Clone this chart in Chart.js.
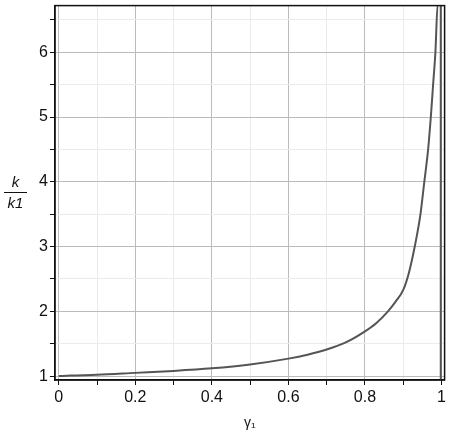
<!DOCTYPE html>
<html>
<head>
<meta charset="utf-8">
<script src="https://cdn.jsdelivr.net/npm/chart.js@4"></script>
<style>
  html, body { margin: 0; padding: 0; background: #fff; overflow: hidden; }
  #wrap { position: relative; width: 449px; height: 433px; overflow: hidden; }
  #chart { position: absolute; left: 0; top: -6px; }
  .frac { position: absolute; left: 4px; top: 173px; width: 23px; font: italic 15px "Liberation Sans", Arial, sans-serif; color: #111; text-align: center; }
  .frac .num { border-bottom: 1px solid #111; padding-bottom: 2px; line-height: 17px; }
  .frac .den { line-height: 19px; }
</style>
</head>
<body>
<div id="wrap">
  <canvas id="chart" width="449" height="439"></canvas>
  <div class="frac"><div class="num">k</div><div class="den">k1</div></div>
</div>
<script>
// values
const gamma = [0, 0.03, 0.1, 0.2, 0.3, 0.4, 0.5, 0.6, 0.65, 0.7, 0.75, 0.8, 0.83, 0.86, 0.88, 0.9, 0.915, 0.93, 0.945, 0.955, 0.965, 0.972, 0.978, 0.984, 0.99, 0.998, 0.998];
const ratio = [1.0, 1.01, 1.02, 1.05, 1.08, 1.12, 1.18, 1.27, 1.33, 1.41, 1.52, 1.69, 1.82, 2.0, 2.15, 2.33, 2.6, 3.0, 3.5, 4.0, 4.5, 5.0, 5.5, 6.0, 6.75, 6.75, 0.9];
const xTicks = [0, 0.1, 0.2, 0.3, 0.4, 0.5, 0.6, 0.7, 0.8, 0.9, 1];
const yTicks = [1, 1.5, 2, 2.5, 3, 3.5, 4, 4.5, 5, 5.5, 6, 6.5];

const isMajorX = v => Math.abs(v * 5 - Math.round(v * 5)) < 1e-6;
const isMajorY = v => Math.abs(v - Math.round(v)) < 1e-6;

const frame = {
  id: 'frame',
  afterDraw(chart) {
    const { ctx, chartArea: a } = chart;
    ctx.save();
    ctx.strokeStyle = '#111';
    ctx.lineWidth = 1.5;
    ctx.strokeRect(a.left, a.top, a.right - a.left, a.bottom - a.top);
    ctx.restore();
  }
};

new Chart(document.getElementById('chart'), {
  type: 'line',
  data: {
    datasets: [{
      data: gamma.map((g, i) => ({ x: g, y: ratio[i] })),
      borderColor: '#555',
      borderWidth: 2,
      pointRadius: 0,
      cubicInterpolationMode: 'monotone',
      fill: false
    }]
  },
  plugins: [frame],
  options: {
    responsive: false,
    animation: false,
    layout: { padding: { left: 37, right: 2, top: 0, bottom: 1 } },
    plugins: { legend: { display: false }, tooltip: { enabled: false } },
    scales: {
      x: {
        type: 'linear',
        min: -0.01,
        max: 1.008,
        afterBuildTicks: s => { s.ticks = xTicks.map(v => ({ value: v })); },
        ticks: {
          color: '#111',
          font: { family: 'Liberation Sans', size: 16 },
          maxRotation: 0,
          autoSkip: false,
          padding: 3,
          callback: v => isMajorX(v) ? String(+v.toFixed(1)) : ''
        },
        grid: {
          color: c => isMajorX(c.tick.value) ? '#bbbbbb' : '#ebebeb',
          tickColor: '#111',
          tickLength: 5,
          lineWidth: 1
        },
        border: { color: '#111', width: 1.5 },
        title: {
          display: true,
          text: 'γ\u2081',
          color: '#111',
          font: { family: 'Liberation Sans', size: 14 },
          padding: { top: 5, bottom: 0 }
        }
      },
      y: {
        min: 0.94,
        max: 6.72,
        afterBuildTicks: s => { s.ticks = yTicks.map(v => ({ value: v })); },
        ticks: {
          color: '#111',
          font: { family: 'Liberation Sans', size: 16 },
          autoSkip: false,
          padding: 2,
          callback: v => isMajorY(v) ? String(v) : ''
        },
        grid: {
          color: c => isMajorY(c.tick.value) ? '#bbbbbb' : '#ebebeb',
          tickColor: '#111',
          tickLength: 5,
          lineWidth: 1
        },
        border: { color: '#111', width: 1.5 }
      }
    }
  }
});
</script>
</body>
</html>
